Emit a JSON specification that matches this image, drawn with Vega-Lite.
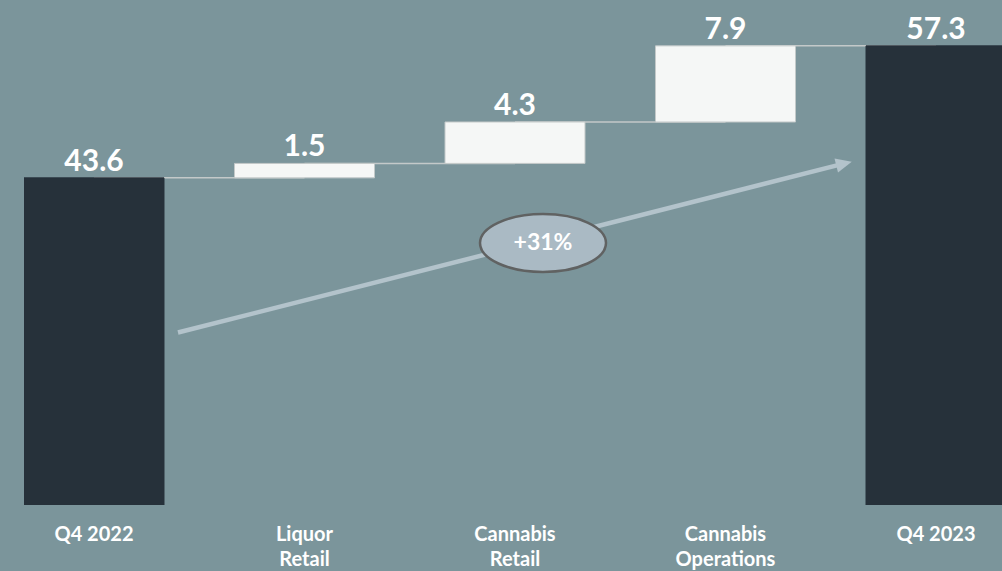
{
  "$schema": "https://vega.github.io/schema/vega-lite/v6.json",
  "autosize": "none",
  "width": 982,
  "height": 505,
  "padding": {"left": 24, "top": 0, "right": 0, "bottom": 66},
  "background": "#7b959b",
  "config": {"view": {"stroke": null}, "font": "Lato"},
  "datasets": {
    "bars": [
      {"cat": "Q4 2022", "start": 0, "end": 43.6, "label": "43.6", "kind": "total"},
      {"cat": "Liquor Retail", "start": 43.6, "end": 45.1, "label": "1.5", "kind": "delta"},
      {"cat": "Cannabis Retail", "start": 45.1, "end": 49.4, "label": "4.3", "kind": "delta"},
      {"cat": "Cannabis Operations", "start": 49.4, "end": 57.3, "label": "7.9", "kind": "delta"},
      {"cat": "Q4 2023", "start": 0, "end": 57.3, "label": "57.3", "kind": "total"}
    ],
    "links": [
      {"from": "Q4 2022", "to": "Liquor Retail", "v": 43.6},
      {"from": "Liquor Retail", "to": "Cannabis Retail", "v": 45.1},
      {"from": "Cannabis Retail", "to": "Cannabis Operations", "v": 49.4},
      {"from": "Cannabis Operations", "to": "Q4 2023", "v": 57.3}
    ],
    "arrow": [
      {"ax": 0.399, "ay": 27.55},
      {"ax": 3.534, "ay": 44.92}
    ],
    "head": [{"ax": 3.563, "ay": 45.08}],
    "badge": [{"ax": 2.133, "ay": 36.84, "t": "+31%"}]
  },
  "layer": [
    {
      "data": {"name": "links"},
      "mark": {"type": "rule", "color": "#c3c9c9", "strokeWidth": 1.5, "clip": true},
      "encoding": {
        "x": {
          "field": "from", "type": "nominal",
          "scale": {
            "type": "band",
            "domain": ["Q4 2022", "Liquor Retail", "Cannabis Retail", "Cannabis Operations", "Q4 2023"],
            "paddingInner": 0.335, "paddingOuter": 0
          },
          "axis": null
        },
        "x2": {"field": "to"},
        "y": {
          "field": "v", "type": "quantitative",
          "scale": {"domain": [9.65, 62.06], "zero": false, "nice": false},
          "axis": null
        }
      }
    },
    {
      "data": {"name": "bars"},
      "mark": {"type": "bar", "clip": true, "strokeWidth": 1},
      "encoding": {
        "x": {
          "field": "cat", "type": "nominal",
          "scale": {
            "type": "band",
            "domain": ["Q4 2022", "Liquor Retail", "Cannabis Retail", "Cannabis Operations", "Q4 2023"],
            "paddingInner": 0.335, "paddingOuter": 0
          },
          "axis": {
            "title": null, "domain": false, "ticks": false,
            "labelAngle": 0, "labelColor": "#ffffff", "labelFont": "Lato",
            "labelFontWeight": "bold", "labelFontSize": 20, "labelPadding": 19,
            "labelLineHeight": 25,
            "labelExpr": "indexof(datum.label, 'Q4') == 0 ? datum.label : split(datum.label, ' ')"
          }
        },
        "y": {"field": "start", "type": "quantitative"},
        "y2": {"field": "end"},
        "color": {
          "field": "kind", "type": "nominal",
          "scale": {"domain": ["total", "delta"], "range": ["#26313a", "#f5f7f6"]},
          "legend": null
        },
        "stroke": {
          "field": "kind", "type": "nominal",
          "scale": {"domain": ["total", "delta"], "range": ["#26313a", "#c3c9c9"]},
          "legend": null
        }
      }
    },
    {
      "data": {"name": "bars"},
      "mark": {"type": "text", "baseline": "alphabetic", "dy": -7, "fontSize": 30, "fontWeight": "bold", "color": "#ffffff", "font": "Lato"},
      "encoding": {
        "x": {
          "field": "cat", "type": "nominal",
          "scale": {
            "type": "band",
            "domain": ["Q4 2022", "Liquor Retail", "Cannabis Retail", "Cannabis Operations", "Q4 2023"],
            "paddingInner": 0.335, "paddingOuter": 0
          },
          "axis": null
        },
        "y": {"field": "end", "type": "quantitative"},
        "text": {"field": "label"}
      }
    },
    {
      "data": {"name": "arrow"},
      "mark": {"type": "line", "color": "#b3c3cb", "strokeWidth": 4.5, "strokeCap": "butt"},
      "encoding": {
        "x": {"field": "ax", "type": "quantitative", "scale": {"domain": [-0.3325, 4.3325], "zero": false, "nice": false}, "axis": null},
        "y": {"field": "ay", "type": "quantitative"}
      }
    },
    {
      "data": {"name": "head"},
      "mark": {"type": "point", "shape": "M -1 -0.9 L 1 0 L -1 0.9 Z", "size": 256, "angle": -14.2, "filled": true, "color": "#b3c3cb", "opacity": 1},
      "encoding": {
        "x": {"field": "ax", "type": "quantitative", "scale": {"domain": [-0.3325, 4.3325], "zero": false, "nice": false}, "axis": null},
        "y": {"field": "ay", "type": "quantitative"}
      }
    },
    {
      "data": {"name": "badge"},
      "mark": {"type": "point", "shape": "M -1 0 A 1 0.46 0 1 0 1 0 A 1 0.46 0 1 0 -1 0 Z", "size": 15876, "filled": true, "fill": "#aabac4", "stroke": "#606262", "strokeWidth": 2.5, "opacity": 1, "fillOpacity": 1},
      "encoding": {
        "x": {"field": "ax", "type": "quantitative", "scale": {"domain": [-0.3325, 4.3325], "zero": false, "nice": false}, "axis": null},
        "y": {"field": "ay", "type": "quantitative"}
      }
    },
    {
      "data": {"name": "badge"},
      "mark": {"type": "text", "fontSize": 23, "fontWeight": "bold", "color": "#ffffff", "font": "Lato"},
      "encoding": {
        "x": {"field": "ax", "type": "quantitative", "scale": {"domain": [-0.3325, 4.3325], "zero": false, "nice": false}, "axis": null},
        "y": {"field": "ay", "type": "quantitative"},
        "text": {"field": "t"}
      }
    }
  ],
  "resolve": {"scale": {"x": "independent"}}
}
